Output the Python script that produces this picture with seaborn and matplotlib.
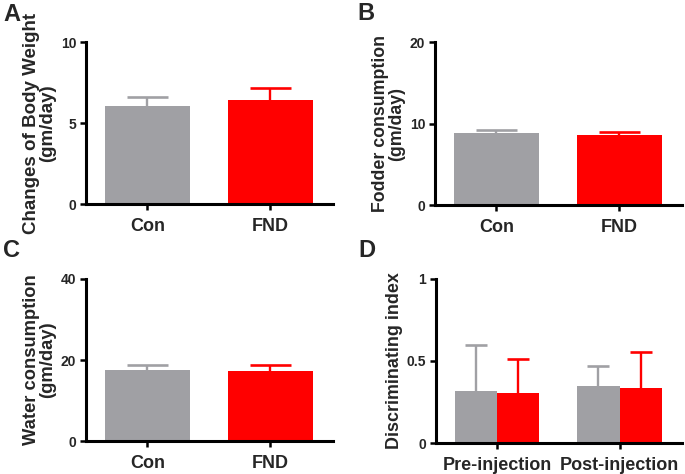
import numpy as np
import pandas as pd
import seaborn as sns
import matplotlib.pyplot as plt

sns.set_style("ticks")
plt.rcParams['font.family'] = ['Liberation Sans', 'DejaVu Sans']
plt.rcParams['font.weight'] = 'bold'

# datos
groups = ["Con", "FND"]
body_weight = [6.05, 6.45]
body_weight_err = [0.55, 0.7]
fodder = [8.8, 8.6]
fodder_err = [0.4, 0.35]
water = [17.5, 17.3]
water_err = [1.3, 1.5]

phases = ["Pre-injection", "Post-injection"]
di_con = [0.317, 0.348]
di_con_err = [0.28, 0.12]
di_fnd = [0.305, 0.336]
di_fnd_err = [0.21, 0.22]

GRAY = "#A0A0A4"
RED = "#FF0000"
palette = {"Con": GRAY, "FND": RED}


def style_axis(ax, ylabel, ysize, ymax, yticks, yticklabels):
    ax.set_ylim(0, ymax)
    ax.set_xlim(-0.5, 1.51)
    ax.set_yticks(yticks)
    ax.set_yticklabels(yticklabels, fontsize=10, fontweight='bold')
    for lab in ax.get_xticklabels():
        lab.set_fontsize(13)
        lab.set_fontweight('bold')
    ax.set_xlabel("")
    ax.set_ylabel(ylabel, fontsize=ysize, fontweight='bold', labelpad=3,
                  linespacing=1.0)
    sns.despine(ax=ax)
    for s in ['left', 'bottom']:
        ax.spines[s].set_linewidth(2.2)
        ax.spines[s].set_color('black')
    ax.tick_params(axis='both', width=1.8, length=4, color='black', pad=3)
    ax.tick_params(axis='x', pad=6)


def add_errors(ax, errs, colors, half_cap):
    # solo la mitad superior de la barra de error, como en GraphPad
    bars = sorted(ax.patches, key=lambda p: p.get_x())
    for bar, e, c in zip(bars, errs, colors):
        xc = bar.get_x() + bar.get_width() / 2
        top = bar.get_height()
        ax.vlines(xc, top, top + e, color=c, linewidth=1.7, zorder=1)
        ax.hlines(top + e, xc - half_cap, xc + half_cap, color=c,
                  linewidth=1.9, zorder=1)


def simple_panel(ax, values, errs, ylabel, ysize, ymax, yticks):
    df = pd.DataFrame({'group': groups, 'value': values})
    sns.barplot(data=df, x='group', y='value', hue='group', palette=palette,
                width=0.69, saturation=1, errorbar=None, legend=False,
                linewidth=0, ax=ax)
    add_errors(ax, errs, [GRAY, RED], 0.165)
    style_axis(ax, ylabel, ysize, ymax, yticks, [str(t) for t in yticks])


fig = plt.figure(figsize=(6.85, 4.74), dpi=100)
axA = fig.add_axes([0.1255, 0.5696, 0.3605, 0.3414])
axB = fig.add_axes([0.635, 0.5675, 0.3606, 0.3435])
axC = fig.add_axes([0.1255, 0.0696, 0.3605, 0.3418])
axD = fig.add_axes([0.6365, 0.0654, 0.3591, 0.346])

simple_panel(axA, body_weight, body_weight_err,
             "Changes of Body Weight\n(gm/day)", 13.5, 10, [0, 5, 10])
simple_panel(axB, fodder, fodder_err,
             "Fodder consumption\n(gm/day)", 12.8, 20, [0, 10, 20])
simple_panel(axC, water, water_err,
             "Water consumption\n(gm/day)", 13.2, 40, [0, 20, 40])

# panel D con hue
df_d = pd.DataFrame({
    'phase': phases * 2,
    'group': ["Con"] * 2 + ["FND"] * 2,
    'value': di_con + di_fnd,
})
sns.barplot(data=df_d, x='phase', y='value', hue='group', palette=palette,
            width=0.69, saturation=1, errorbar=None, legend=False,
            linewidth=0, ax=axD)
add_errors(axD, [di_con_err[0], di_fnd_err[0], di_con_err[1], di_fnd_err[1]],
           [GRAY, RED, GRAY, RED], 0.09)
style_axis(axD, "Discriminating index", 12.9, 1, [0, 0.5, 1],
           ["0", "0.5", "1"])

# letras de los paneles
for letter, x, y in [("A", 3, 3), ("B", 357, 2), ("C", 3, 239), ("D", 358, 239)]:
    fig.text(x / 685, 1 - y / 474, letter, fontsize=17, fontweight='bold',
             va='top', ha='left')

fig.savefig('out.png', dpi=100)
